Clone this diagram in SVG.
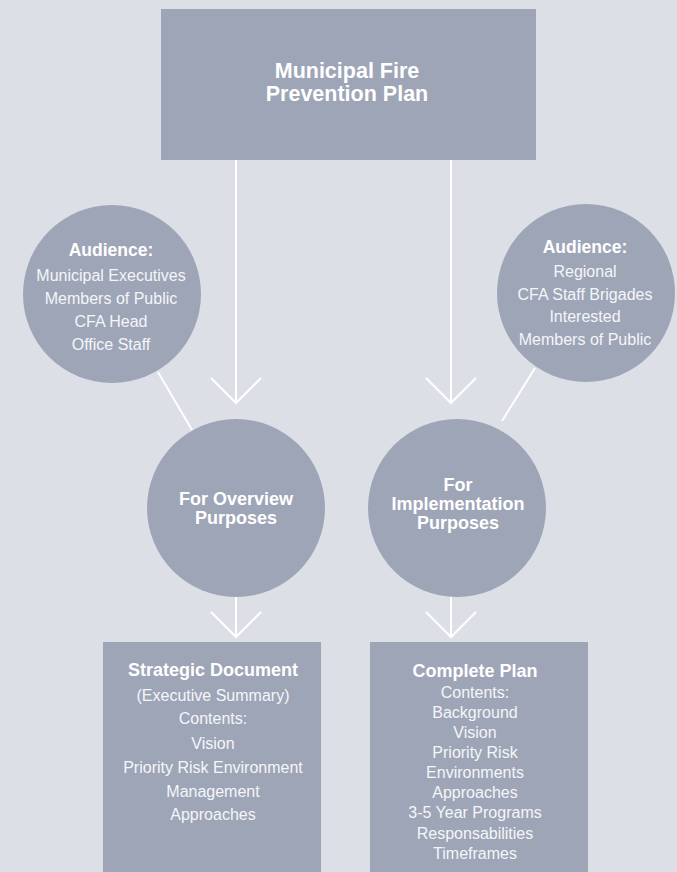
<svg xmlns="http://www.w3.org/2000/svg" width="677" height="872" viewBox="0 0 677 872">
<style>
.bg{fill:#dcdfe6}
.node{fill:#9ea5b7}
.conn{stroke:#ffffff;stroke-width:2;fill:none}
text{font-family:"Liberation Sans",Arial,sans-serif;fill:#f5f6f9;text-anchor:middle}
.t{font-size:16px}
.h1{font-size:21.5px;font-weight:bold;fill:#ffffff}
.h2{font-size:18px;font-weight:bold;fill:#ffffff}
.h3{font-size:17.5px;font-weight:bold;fill:#ffffff}
.h4{font-size:18px;font-weight:bold;fill:#ffffff}
</style>
<rect class="bg" x="0" y="0" width="677" height="872"/>
<g id="connectors">
<path class="conn" d="M236 160 V403 M211 378 L236 403 L261 378"/>
<path class="conn" d="M451 160 V403 M426 378 L451 403 L476 378"/>
<path class="conn" d="M158 372 L192 430"/>
<path class="conn" d="M535 368 L502 421"/>
<path class="conn" d="M236 596 V637 M211 612 L236 637 L261 612"/>
<path class="conn" d="M451 596 V637 M426 612 L451 637 L476 612"/>
</g>
<g id="plan">
<rect class="node" x="161" y="9" width="375" height="151"/>
<text class="h1" x="347" y="78">Municipal Fire</text>
<text class="h1" x="347" y="101">Prevention Plan</text>
</g>
<g id="audience-left">
<circle class="node" cx="112" cy="294" r="89"/>
<text class="h3" x="111" y="256">Audience:</text>
<text class="t" x="111" y="281">Municipal Executives</text>
<text class="t" x="111" y="304">Members of Public</text>
<text class="t" x="111" y="327">CFA Head</text>
<text class="t" x="111" y="350">Office Staff</text>
</g>
<g id="audience-right">
<circle class="node" cx="586" cy="293" r="89"/>
<text class="h3" x="585" y="253">Audience:</text>
<text class="t" x="585" y="277">Regional</text>
<text class="t" x="585" y="300">CFA Staff Brigades</text>
<text class="t" x="585" y="322">Interested</text>
<text class="t" x="585" y="345">Members of Public</text>
</g>
<g id="overview">
<circle class="node" cx="236" cy="508" r="89"/>
<text class="h2" x="236" y="505">For Overview</text>
<text class="h2" x="236" y="524">Purposes</text>
</g>
<g id="implementation">
<circle class="node" cx="457" cy="508" r="89"/>
<text class="h2" x="458" y="491">For</text>
<text class="h2" x="458" y="510">Implementation</text>
<text class="h2" x="458" y="529">Purposes</text>
</g>
<g id="strategic">
<rect class="node" x="103" y="642" width="218" height="230"/>
<text class="h4" x="213" y="676">Strategic Document</text>
<text class="t" x="213" y="701">(Executive Summary)</text>
<text class="t" x="213" y="724">Contents:</text>
<text class="t" x="213" y="749">Vision</text>
<text class="t" x="213" y="773">Priority Risk Environment</text>
<text class="t" x="213" y="797">Management</text>
<text class="t" x="213" y="820">Approaches</text>
</g>
<g id="complete">
<rect class="node" x="370" y="642" width="218" height="230"/>
<text class="h4" x="475" y="677">Complete Plan</text>
<text class="t" x="475" y="698">Contents:</text>
<text class="t" x="475" y="718">Background</text>
<text class="t" x="475" y="738">Vision</text>
<text class="t" x="475" y="758">Priority Risk</text>
<text class="t" x="475" y="778">Environments</text>
<text class="t" x="475" y="798">Approaches</text>
<text class="t" x="475" y="818">3-5 Year Programs</text>
<text class="t" x="475" y="839">Responsabilities</text>
<text class="t" x="475" y="859">Timeframes</text>
</g>
</svg>
